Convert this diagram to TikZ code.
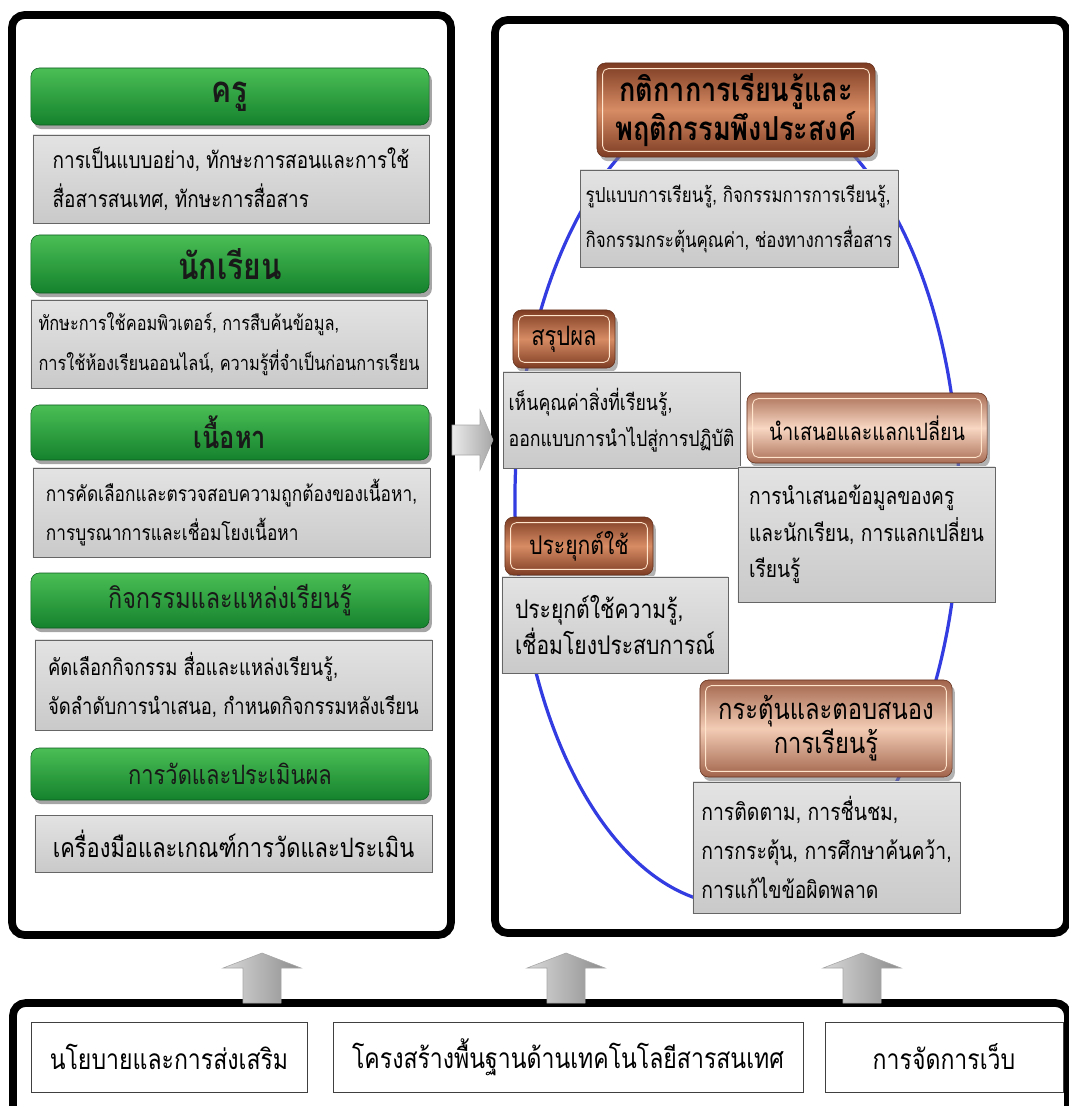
\documentclass[tikz,border=0pt]{standalone}
\usepackage{fontspec}
\setmainfont[Script=Thai, FakeStretch=0.82]{Loma}
\usetikzlibrary{shadows}

\definecolor{vertH}{RGB}{75,190,85}
\definecolor{vertB}{RGB}{20,130,45}
\definecolor{cuivreF}{RGB}{125,60,35}
\definecolor{cuivreC}{RGB}{215,140,100}
\definecolor{roseF}{RGB}{170,110,85}
\definecolor{roseC}{RGB}{248,215,195}
\definecolor{bleuE}{RGB}{50,60,225}

\newcommand\taille[2]{\fontsize{#1}{#2}\selectfont}

\tikzset{
  cadre/.style={line width=5.5pt, rounded corners=9pt},
  titre/.style={rounded corners=6pt, draw=vertB!70!black, top color=vertH, bottom color=vertB,
    drop shadow={shadow xshift=2pt, shadow yshift=-3pt, opacity=.7},
    minimum width=9.95cm, text=black!90},
  detail/.style={draw=black!60, top color=black!11, bottom color=black!21, align=left,
    inner xsep=4pt},
  cuivre/.style={rounded corners=6pt, draw=cuivreF!80!black, top color=cuivreF, bottom color=cuivreF,
    middle color=cuivreC, drop shadow={shadow xshift=2pt, shadow yshift=-3pt, opacity=.6},
    align=center,
    path picture={\draw[white!80!orange, line width=.6pt, rounded corners=4pt]
      ([shift={(4pt,-4pt)}]path picture bounding box.north west) rectangle
      ([shift={(-4pt,4pt)}]path picture bounding box.south east);}},
  rose/.style={cuivre, top color=roseF, bottom color=roseF, middle color=roseC},
  socle/.style={draw=black!75, fill=white, line width=.6pt, font=\taille{20}{24}},
  fleche/.style={draw=black!35, top color=black!8, bottom color=black!40}
}

\begin{document}
\begin{tikzpicture}[x=0.025cm, y=-0.025cm]
  \useasboundingbox (0,0) rectangle (1069,1106);
  \clip (0,0) rectangle (1069,1106);
  % Cadres
  \draw[cadre, fill=white] (12,15) rectangle (451,935);
  \draw[cadre, fill=white] (495,20) rectangle (1067,933);
  \draw[cadre, fill=white] (13,1003) rectangle (1068,1130);

  % Colonne de gauche
  \node[titre, minimum height=1.425cm, font=\taille{26}{28}\bfseries] (kru) at (230,96.5) {ครู};
  \node[detail, minimum height=2.2cm, minimum width=9.9cm, font=\taille{16.4}{28}] (kruD) at (231,179)
    {การเป็นแบบอย่าง, ทักษะการสอนและการใช้\\สื่อสารสนเทศ, ทักษะการสื่อสาร};
  \node[titre, minimum height=1.45cm, font=\taille{26}{28}\bfseries] (nak) at (230,264) {นักเรียน};
  \node[detail, minimum height=2.2cm, minimum width=9.9cm, font=\taille{14.2}{28}] (nakD) at (229,344)
    {ทักษะการใช้คอมพิวเตอร์, การสืบค้นข้อมูล,\\การใช้ห้องเรียนออนไลน์, ความรู้ที่จำเป็นก่อนการเรียน};
  \node[titre, minimum height=1.375cm, font=\taille{22}{24}\bfseries] (nue) at (230,432.5) {เนื้อหา};
  \node[detail, minimum height=2.225cm, minimum width=9.925cm, font=\taille{15}{28}] (nueD) at (231.5,512.5)
    {การคัดเลือกและตรวจสอบความถูกต้องของเนื้อหา,\\การบูรณาการและเชื่อมโยงเนื้อหา};
  \node[titre, minimum height=1.375cm, font=\taille{20.3}{24}] (kit) at (230,600.5) {กิจกรรมและแหล่งเรียนรู้};
  \node[detail, minimum height=2.25cm, minimum width=9.925cm, font=\taille{16}{28}] (kitD) at (233.5,685)
    {คัดเลือกกิจกรรม สื่อและแหล่งเรียนรู้,\\จัดลำดับการนำเสนอ, กำหนดกิจกรรมหลังเรียน};
  \node[titre, minimum height=1.3cm, font=\taille{19}{22}] (wat) at (230,774) {การวัดและประเมินผล};
  \node[detail, minimum height=1.425cm, minimum width=9.925cm, align=center, font=\taille{19}{22}] (watD) at (233.5,843.5)
    {เครื่องมือและเกณฑ์การวัดและประเมิน};

  % Fleche centrale
  \draw[fleche, left color=black!8, right color=black!35]
    (452,425) -- (480,425) -- (480,410) -- (493,440) -- (480,470) -- (480,455) -- (452,455) -- cycle;

  % Cycle de droite
  \draw[bleuE, line width=2.3pt] (737,500) ellipse [x radius=5.55cm, y radius=10.125cm];
  \node[cuivre, minimum width=6.95cm, minimum height=2.35cm, font=\taille{23.5}{25.5}\bfseries] (kat) at (736,110)
    {กติกาการเรียนรู้และ\\พฤติกรรมพึงประสงค์};
  \node[detail, minimum height=2.425cm, minimum width=7.7cm, font=\taille{14.7}{32}] (katD) at (739,218.5)
    {รูปแบบการเรียนรู้, กิจกรรมการการเรียนรู้,\\กิจกรรมกระตุ้นคุณค่า, ช่องทางการสื่อสาร};
  \node[cuivre, minimum width=2.55cm, minimum height=1.45cm, font=\taille{19}{22}] (sa) at (564,339) {สรุปผล};
  \node[detail, minimum height=2.4cm, minimum width=5.675cm, font=\taille{15.4}{26}] (saD) at (621.5,420)
    {เห็นคุณค่าสิ่งที่เรียนรู้,\\ออกแบบการนำไปสู่การปฏิบัติ};
  \node[rose, minimum width=6cm, minimum height=1.75cm, font=\taille{17}{20}] (nam) at (867,428) {นำเสนอและแลกเปลี่ยน};
  \node[detail, minimum height=3.375cm, minimum width=6.425cm, font=\taille{16.6}{26}] (namD) at (866.5,534.5)
    {การนำเสนอข้อมูลของครู\\และนักเรียน, การแลกเปลี่ยน\\เรียนรู้};
  \node[cuivre, minimum width=3.7cm, minimum height=1.45cm, font=\taille{18.3}{22}] (pra) at (579,546) {ประยุกต์ใช้};
  \node[detail, minimum height=2.4cm, minimum width=5.65cm, font=\taille{18.3}{26}] (praD) at (615,625)
    {ประยุกต์ใช้ความรู้,\\เชื่อมโยงประสบการณ์};
  \node[rose, top color=roseF!80!cuivreF, bottom color=roseF!80!cuivreF, middle color=roseC!85!cuivreC,
    minimum width=6.3cm, minimum height=2.425cm, font=\taille{20.6}{24}] (kra) at (826,728.5)
    {กระตุ้นและตอบสนอง\\การเรียนรู้};
  \node[detail, minimum height=3.275cm, minimum width=6.675cm, font=\taille{16.8}{28}] (kraD) at (826.5,847.5)
    {การติดตาม, การชื่นชม,\\การกระตุ้น, การศึกษาค้นคว้า,\\การแก้ไขข้อผิดพลาด};

  % Fleches du socle
  \foreach \xa in {262,566,862}
    \draw[fleche, left color=black!15, right color=black!45]
      (\xa-19,1003) -- (\xa-19,968) -- (\xa-39,968) -- (\xa,953) -- (\xa+39,968) -- (\xa+19,968) -- (\xa+19,1003) -- cycle;

  % Socle
  \node[socle, minimum width=6.9cm, minimum height=1.75cm] (nayo) at (169,1057) {นโยบายและการส่งเสริม};
  \node[socle, minimum width=11.75cm, minimum height=1.75cm] (khrong) at (568,1057) {โครงสร้างพื้นฐานด้านเทคโนโลยีสารสนเทศ};
  \node[socle, minimum width=5.95cm, minimum height=1.75cm] (web) at (944,1057) {การจัดการเว็บ};
\end{tikzpicture}
\end{document}
